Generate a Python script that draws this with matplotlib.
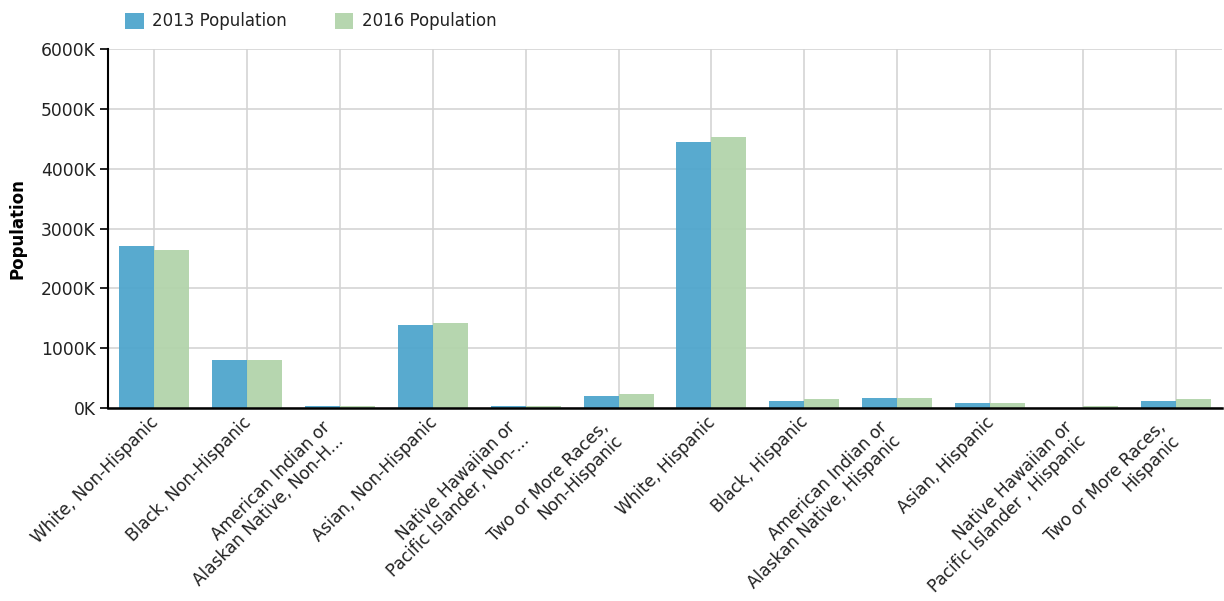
import matplotlib
matplotlib.use("Agg")
import matplotlib.pyplot as plt
import matplotlib.transforms as mtransforms
import numpy as np

categories = [
    "White, Non-Hispanic",
    "Black, Non-Hispanic",
    "American Indian or\nAlaskan Native, Non-H...",
    "Asian, Non-Hispanic",
    "Native Hawaiian or\nPacific Islander, Non-...",
    "Two or More Races,\nNon-Hispanic",
    "White, Hispanic",
    "Black, Hispanic",
    "American Indian or\nAlaskan Native, Hispanic",
    "Asian, Hispanic",
    "Native Hawaiian or\nPacific Islander , Hispanic",
    "Two or More Races,\nHispanic",
]
pop_2013 = [2700, 805, 40, 1385, 40, 200, 4445, 110, 172, 83, 5, 110]   # thousands
pop_2016 = [2645, 805, 40, 1415, 38, 228, 4533, 145, 170, 78, 40, 145]  # thousands
series_names = ["2013 Population", "2016 Population"]
y_ticks = [0, 1000, 2000, 3000, 4000, 5000, 6000]
y_tick_labels = [f"{v}K" for v in y_ticks]

plt.rcParams['font.family'] = ['DejaVu Sans']

fig = plt.figure(figsize=(12.24, 6.01), dpi=100)
ax = fig.add_axes([108/1224, 1 - 408/601, 1114/1224, 359/601])

x = np.arange(len(categories))
w = 0.377
blue = '#4fa6cd'
green = '#b2d4ab'
ax.bar(x - w/2, pop_2013, width=w, color=blue, alpha=0.95, label=series_names[0], zorder=3)
ax.bar(x + w/2, pop_2016, width=w, color=green, alpha=0.95, label=series_names[1], zorder=3)

ax.set_xlim(-0.5, len(categories) - 0.5)
ax.set_ylim(0, 6000)
ax.set_yticks(y_ticks)
ax.set_yticklabels(y_tick_labels, fontsize=12.3, color='#222222')
ax.set_xticks(x)
ax.set_xticklabels([])
ax.tick_params(axis='x', length=0)
ax.tick_params(axis='y', length=6, width=1.2, pad=3, direction='out')

# category labels, rotated 45 degrees, right end at the category centre
base = mtransforms.blended_transform_factory(ax.transData, ax.transAxes)
for i, lab in enumerate(categories):
    if "\n" in lab:
        dx, dy, va = -6, -23, 'center'
    else:
        dx, dy, va = 0, -10, 'center_baseline'
    tr = base + mtransforms.ScaledTranslation(dx / 100, dy / 100, fig.dpi_scale_trans)
    ax.text(x[i], 0, lab, transform=tr, rotation=45, ha='right', va=va,
            rotation_mode='anchor', multialignment='right', fontsize=12.2,
            color='#222222', linespacing=1.1, clip_on=False)

ax.grid(True, color='#d4d4d4', linewidth=1.2, zorder=0)
ax.set_axisbelow(True)
for s in ['top', 'right']:
    ax.spines[s].set_visible(False)
ax.spines['left'].set_linewidth(1.5)
ax.spines['bottom'].set_linewidth(1.8)
ax.spines['left'].set_zorder(4)
ax.spines['bottom'].set_zorder(4)

ax.set_ylabel("Population", fontsize=12, fontweight='bold')
ax.yaxis.set_label_coords(-(108 - 27) / 1114, 0.5)

leg = fig.legend(loc='upper left', bbox_to_anchor=(122/1224, 1 - 9/601), ncol=2,
                 frameon=False, fontsize=12, handlelength=1.1, handleheight=1.1,
                 handletextpad=0.5, columnspacing=2.9, borderaxespad=0,
                 borderpad=0.2)
for t in leg.get_texts():
    t.set_color('#222222')

fig.savefig("out.png", dpi=100)
